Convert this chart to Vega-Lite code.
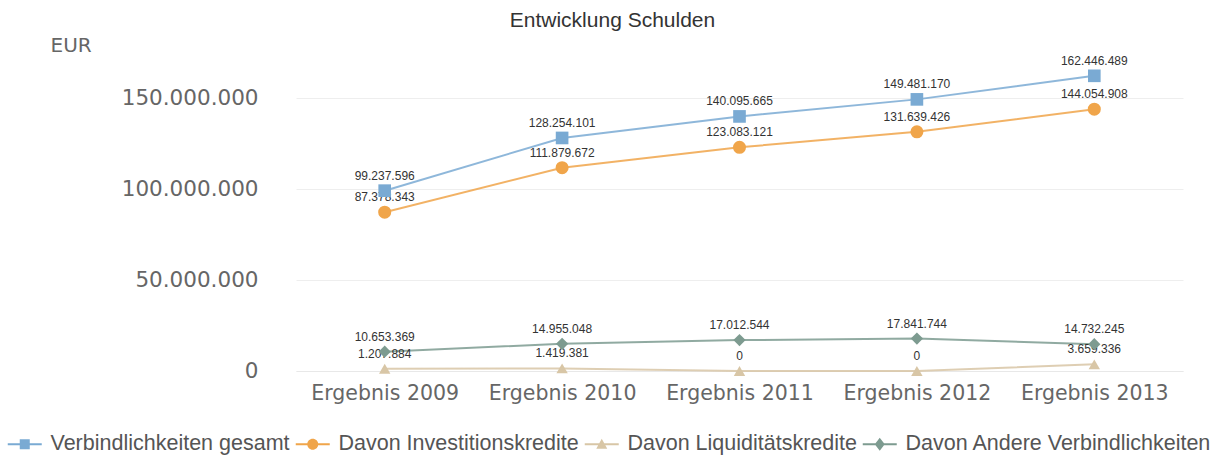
{
  "$schema": "https://vega.github.io/schema/vega-lite/v6.json",
  "width": 887,
  "height": 318,
  "autosize": {"type": "none"},
  "padding": {"left": 296, "top": 53, "right": 38, "bottom": 91},
  "background": "white",
  "config": {
    "locale": {"number": {"decimal": ",", "thousands": ".", "grouping": [3], "currency": ["", " €"]}},
    "view": {"stroke": null}
  },
  "title": {
    "text": "Entwicklung Schulden",
    "anchor": "middle",
    "frame": "group",
    "dx": -127,
    "offset": 4,
    "font": "Liberation Sans",
    "fontSize": 21,
    "fontWeight": "normal",
    "color": "#333333"
  },
  "data": {
    "values": [
      {"year": "Ergebnis 2009", "series": "Verbindlichkeiten gesamt", "value": 99237596},
      {"year": "Ergebnis 2010", "series": "Verbindlichkeiten gesamt", "value": 128254101},
      {"year": "Ergebnis 2011", "series": "Verbindlichkeiten gesamt", "value": 140095665},
      {"year": "Ergebnis 2012", "series": "Verbindlichkeiten gesamt", "value": 149481170},
      {"year": "Ergebnis 2013", "series": "Verbindlichkeiten gesamt", "value": 162446489},
      {"year": "Ergebnis 2009", "series": "Davon Investitionskredite", "value": 87378343},
      {"year": "Ergebnis 2010", "series": "Davon Investitionskredite", "value": 111879672},
      {"year": "Ergebnis 2011", "series": "Davon Investitionskredite", "value": 123083121},
      {"year": "Ergebnis 2012", "series": "Davon Investitionskredite", "value": 131639426},
      {"year": "Ergebnis 2013", "series": "Davon Investitionskredite", "value": 144054908},
      {"year": "Ergebnis 2009", "series": "Davon Liquiditätskredite", "value": 1207884},
      {"year": "Ergebnis 2010", "series": "Davon Liquiditätskredite", "value": 1419381},
      {"year": "Ergebnis 2011", "series": "Davon Liquiditätskredite", "value": 0},
      {"year": "Ergebnis 2012", "series": "Davon Liquiditätskredite", "value": 0},
      {"year": "Ergebnis 2013", "series": "Davon Liquiditätskredite", "value": 3659336},
      {"year": "Ergebnis 2009", "series": "Davon Andere Verbindlichkeiten", "value": 10653369},
      {"year": "Ergebnis 2010", "series": "Davon Andere Verbindlichkeiten", "value": 14955048},
      {"year": "Ergebnis 2011", "series": "Davon Andere Verbindlichkeiten", "value": 17012544},
      {"year": "Ergebnis 2012", "series": "Davon Andere Verbindlichkeiten", "value": 17841744},
      {"year": "Ergebnis 2013", "series": "Davon Andere Verbindlichkeiten", "value": 14732245}
    ]
  },
  "encoding": {
    "x": {
      "field": "year",
      "type": "ordinal",
      "scale": {"type": "point", "padding": 0.5},
      "axis": {
        "title": null,
        "labelAngle": 0,
        "labelFont": "DejaVu Sans",
        "labelFontSize": 20.5,
        "labelColor": "#666666",
        "labelPadding": 12,
        "ticks": false,
        "domain": true,
        "domainColor": "#e8e8e8",
        "grid": false
      }
    },
    "y": {
      "field": "value",
      "type": "quantitative",
      "scale": {"domain": [0, 175000000], "nice": false, "zero": true},
      "axis": {
        "values": [0, 50000000, 100000000, 150000000],
        "format": ",.0f",
        "labelFont": "DejaVu Sans",
        "labelFontSize": 21.5,
        "labelColor": "#666666",
        "labelPadding": 38,
        "ticks": false,
        "domain": false,
        "grid": true,
        "gridColor": "#eeeeee",
        "title": "EUR",
        "titleAngle": 0,
        "titleX": -246,
        "titleY": -8,
        "titleAlign": "left",
        "titleBaseline": "middle",
        "titleFont": "DejaVu Sans",
        "titleFontSize": 20,
        "titleFontWeight": "normal",
        "titleColor": "#666666"
      }
    },
    "color": {
      "field": "series",
      "type": "nominal",
      "scale": {
        "domain": ["Verbindlichkeiten gesamt", "Davon Investitionskredite", "Davon Liquiditätskredite", "Davon Andere Verbindlichkeiten"],
        "range": ["#7aaad3", "#f0a54a", "#d8c6a6", "#7d9b90"]
      },
      "legend": null
    }
  },
  "resolve": {"legend": {"color": "independent", "shape": "independent"}},
  "layer": [
    {
      "mark": {"type": "line", "strokeWidth": 2, "opacity": 0.85}
    },
    {
      "mark": {"type": "text", "dy": -15, "font": "Liberation Sans", "fontSize": 12, "baseline": "middle", "align": "center"},
      "encoding": {
        "text": {"field": "value", "type": "quantitative", "format": ",.0f"},
        "color": {"value": "#333333"}
      }
    },
    {
      "transform": [{"filter": "datum.series === 'Verbindlichkeiten gesamt'"}],
      "mark": {"type": "point", "filled": true, "opacity": 1, "size": 160, "shape": "square"}
    },
    {
      "transform": [{"filter": "datum.series === 'Davon Investitionskredite'"}],
      "mark": {"type": "point", "filled": true, "opacity": 1, "size": 170, "shape": "circle"}
    },
    {
      "transform": [{"filter": "datum.series === 'Davon Liquiditätskredite'"}],
      "mark": {"type": "point", "filled": true, "opacity": 1, "size": 130, "shape": "triangle-up"}
    },
    {
      "transform": [{"filter": "datum.series === 'Davon Andere Verbindlichkeiten'"}],
      "mark": {"type": "point", "filled": true, "opacity": 1, "size": 150, "shape": "diamond"}
    },
    {
      "transform": [{"filter": "datum.value < 0"}],
      "mark": {"type": "point", "filled": true, "opacity": 1},
      "encoding": {
        "color": {
          "field": "series",
          "type": "nominal",
          "legend": {
            "orient": "none",
            "legendX": -282,
            "legendY": 380,
            "direction": "horizontal",
            "title": null,
            "labelFont": "Liberation Sans",
            "labelFontSize": 21.5,
            "labelColor": "#555555",
            "labelLimit": 0,
            "symbolSize": 100,
            "symbolOpacity": 1,
            "labelOffset": 15,
            "columnPadding": 2
          }
        },
        "shape": {
          "field": "series",
          "type": "nominal",
          "scale": {
            "domain": ["Verbindlichkeiten gesamt", "Davon Investitionskredite", "Davon Liquiditätskredite", "Davon Andere Verbindlichkeiten"],
            "range": [
              "M-3.4,-0.2H3.4V0.2H-3.4Z M-1,-1H1V1H-1Z",
              "M-3.4,-0.2H3.4V0.2H-3.4Z M-1.1,0A1.1,1.1 0 1,1 1.1,0A1.1,1.1 0 1,1 -1.1,0Z",
              "M-3.4,-0.2H3.4V0.2H-3.4Z M0,-1.1L1.1,0.9H-1.1Z",
              "M-3.4,-0.2H3.4V0.2H-3.4Z M0,-1.3L1,0L0,1.3L-1,0Z"
            ]
          },
          "legend": {
            "orient": "none",
            "legendX": -282,
            "legendY": 380,
            "direction": "horizontal",
            "title": null,
            "labelFont": "Liberation Sans",
            "labelFontSize": 21.5,
            "labelColor": "#555555",
            "labelLimit": 0,
            "symbolSize": 100,
            "symbolOpacity": 1,
            "labelOffset": 15,
            "columnPadding": 2
          }
        }
      }
    }
  ]
}
